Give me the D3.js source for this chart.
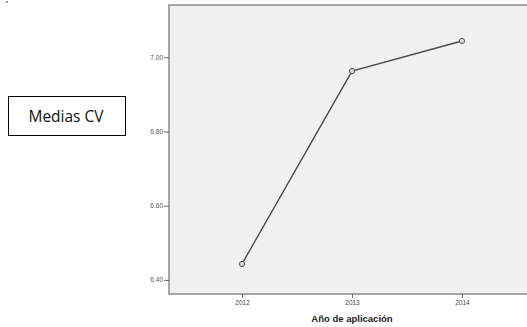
<!DOCTYPE html>
<html>
<head>
<meta charset="utf-8">
<script src="https://cdn.jsdelivr.net/npm/d3@7"></script>
<style>
  html, body { margin: 0; padding: 0; background: #fff; }
  svg { display: block; }
</style>
</head>
<body>
<svg id="chart" width="527" height="327"></svg>
<script>
// Mean CV score per application year
const years = ["2012", "2013", "2014"];
const medias = [6.443, 6.963, 7.044];
const yTicks = [6.40, 6.60, 6.80, 7.00];

const svg = d3.select("#chart");

const plot = { left: 169, right: 535, top: 5, bottom: 294 };

const x = d3.scalePoint()
  .domain(years)
  .range([plot.left, plot.right])
  .padding(0.664);

const y = d3.scaleLinear()
  .domain([6.362, 7.141])
  .range([plot.bottom, plot.top]);

// tiny mark in the corner
svg.append("rect").attr("x", 6).attr("y", 1).attr("width", 2).attr("height", 2).attr("fill", "#999");

// plot background
svg.append("rect")
  .attr("x", plot.left).attr("y", plot.top)
  .attr("width", plot.right - plot.left).attr("height", plot.bottom - plot.top)
  .attr("fill", "#f0f0f0")
  .attr("stroke", "#8a8a8a")
  .attr("stroke-width", 1.5);

// y axis
const yAxis = svg.append("g")
  .attr("transform", `translate(${plot.left},0)`)
  .call(d3.axisLeft(y).tickValues(yTicks).tickFormat(d3.format(".2f")).tickSize(5).tickPadding(1));
yAxis.select(".domain").remove();
yAxis.selectAll("line").attr("stroke", "#666");
yAxis.selectAll("text")
  .attr("font-family", "Liberation Sans, Arial, sans-serif")
  .attr("font-size", 6.5)
  .attr("fill", "#555");

// x axis
const xAxis = svg.append("g")
  .attr("transform", `translate(0,${plot.bottom})`)
  .call(d3.axisBottom(x).tickSize(4).tickPadding(2));
xAxis.select(".domain").remove();
xAxis.selectAll("line").attr("stroke", "#666");
xAxis.selectAll("text")
  .attr("font-family", "Liberation Sans, Arial, sans-serif")
  .attr("font-size", 6.5)
  .attr("fill", "#444");

// x axis title
svg.append("text")
  .attr("x", x("2013"))
  .attr("y", 322)
  .attr("text-anchor", "middle")
  .attr("font-family", "Liberation Sans, Arial, sans-serif")
  .attr("font-size", 9.5)
  .attr("font-weight", "bold")
  .attr("fill", "#222")
  .text("Año de aplicación");

// series line
const pts = years.map((yr, i) => ({ yr, v: medias[i] }));
svg.append("path")
  .datum(pts)
  .attr("fill", "none")
  .attr("stroke", "#4a4a4a")
  .attr("stroke-width", 1.4)
  .attr("d", d3.line().x(d => x(d.yr)).y(d => y(d.v)));

svg.selectAll("circle.pt")
  .data(pts)
  .join("circle")
  .attr("class", "pt")
  .attr("cx", d => x(d.yr))
  .attr("cy", d => y(d.v))
  .attr("r", 2.6)
  .attr("fill", "#d8d8d8")
  .attr("stroke", "#555")
  .attr("stroke-width", 1);

// label box
svg.append("rect")
  .attr("x", 8.5).attr("y", 96.5)
  .attr("width", 117).attr("height", 39)
  .attr("fill", "#fff")
  .attr("stroke", "#000")
  .attr("stroke-width", 1);
svg.append("text")
  .attr("x", 66).attr("y", 122)
  .attr("text-anchor", "middle")
  .attr("font-family", "Open Sans, Liberation Sans, sans-serif")
  .attr("font-size", 15.5)
  .attr("fill", "#111")
  .text("Medias CV");
</script>
</body>
</html>
